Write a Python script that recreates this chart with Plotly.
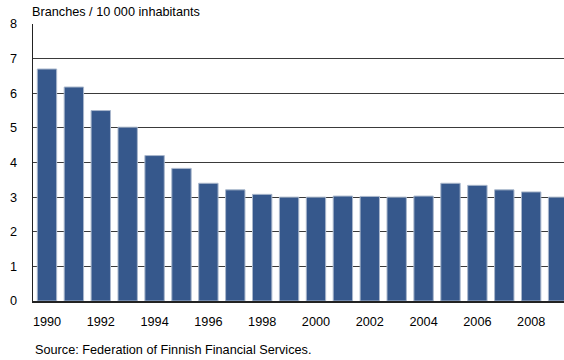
import plotly.graph_objects as go

years = list(range(1990, 2010))
branches = [6.7, 6.18, 5.5, 5.02, 4.2, 3.83, 3.4, 3.21, 3.08, 3.0,
            3.0, 3.03, 3.02, 3.0, 3.03, 3.4, 3.34, 3.21, 3.15, 3.0]
xtick_vals = list(range(1990, 2010, 2))
xtick_text = [str(y) for y in xtick_vals]
ytick_vals = list(range(0, 9))

fig = go.Figure()
fig.add_trace(go.Bar(
    x=years, y=branches,
    marker=dict(color="#36588c", line=dict(color="#a9b7cc", width=1)),
    width=0.72,
))

font = dict(family="Liberation Sans, Arial, sans-serif", size=12.7, color="#000000")

fig.update_layout(
    width=564, height=360,
    margin=dict(l=33, r=0, t=24, b=59, autoexpand=False),
    paper_bgcolor="white", plot_bgcolor="white",
    font=font,
    showlegend=False,
    bargap=0.28,
    xaxis=dict(
        range=[1989.48, 2009.22],
        tickvals=xtick_vals, ticktext=xtick_text,
        showgrid=False, zeroline=False, automargin=False,
        showline=True, linecolor="#222222", linewidth=2,
        ticks="", ticklabelstandoff=8,
        tickfont=font,
    ),
    yaxis=dict(
        range=[0, 8],
        tickvals=ytick_vals,
        showgrid=True, gridcolor="#3a3a3a", gridwidth=1,
        zeroline=False, automargin=False,
        showline=True, linecolor="#222222", linewidth=1.5,
        ticks="", ticklabelstandoff=12,
        tickfont=font,
    ),
    annotations=[
        dict(text="Branches / 10 000 inhabitants", xref="paper", yref="paper",
             x=0, y=1, xanchor="left", yanchor="bottom", yshift=3, xshift=-3,
             showarrow=False, font=font),
        dict(text="Source: Federation of Finnish Financial Services.", xref="paper", yref="paper",
             x=0, y=0, xanchor="left", yanchor="top", yshift=-40, xshift=0,
             showarrow=False, font=font),
    ],
)

fig.write_html("out.html", config={"displayModeBar": False, "staticPlot": True},
               post_script="document.body.style.margin='0';document.body.style.overflow='hidden';")
